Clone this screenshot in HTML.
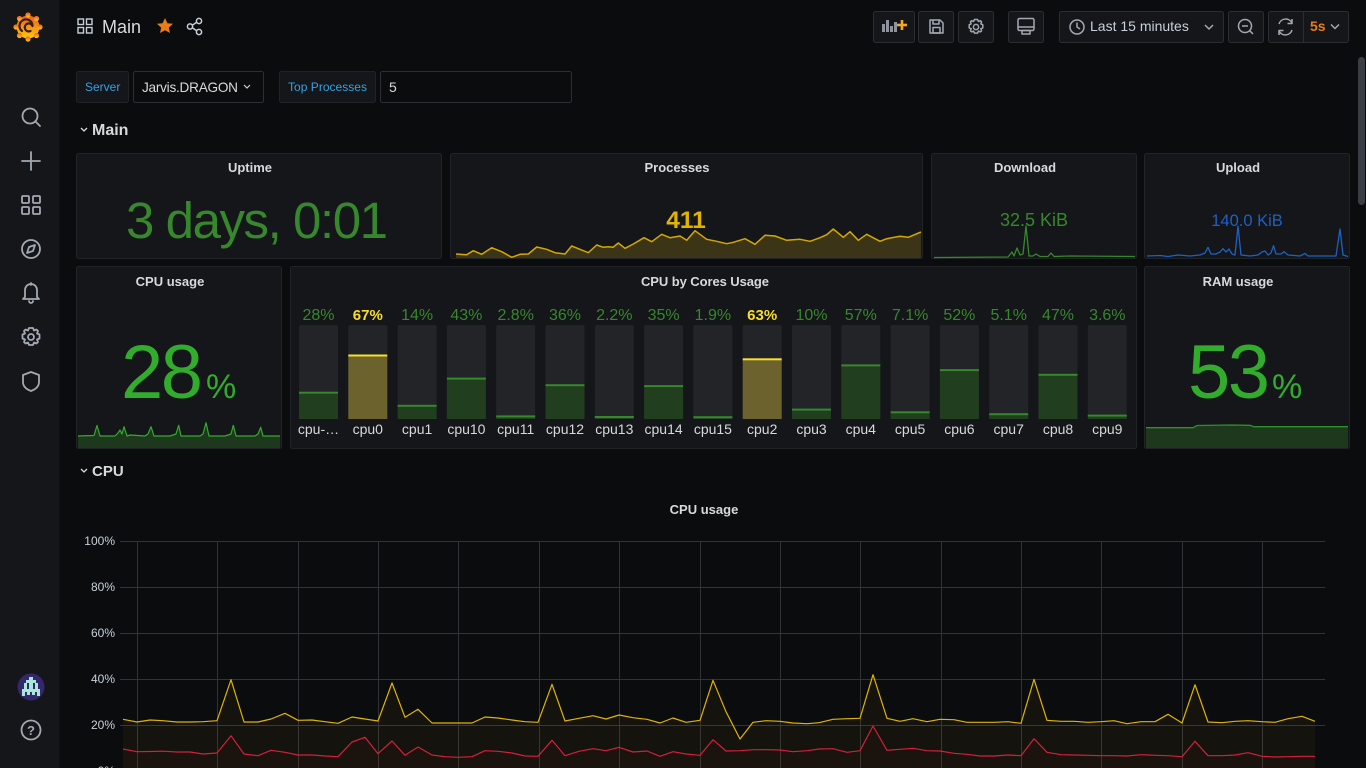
<!DOCTYPE html>
<html><head><meta charset="utf-8"><style>
html,body{margin:0;padding:0;background:#0b0c0e;overflow:hidden}
svg{display:block}
text{font-family:"Liberation Sans",sans-serif}
</style></head><body>
<svg width="1366" height="768" viewBox="0 0 1366 768" xmlns="http://www.w3.org/2000/svg">
<rect width="1366" height="768" fill="#0b0c0e"/>
<!-- Sidebar -->
<rect x="0" y="0" width="60" height="768" fill="#141619"/>
<rect x="59" y="0" width="1" height="768" fill="#0e0f11"/>
<!-- logo -->
<defs><linearGradient id="lg" x1="0" y1="1" x2="0" y2="0"><stop offset="0" stop-color="#fbca0a"/><stop offset="1" stop-color="#f05a28"/></linearGradient></defs>
<g transform="translate(28,27)">
<circle r="11.5" fill="url(#lg)"/>
<g fill="url(#lg)"><circle cx="0" cy="-12" r="2.6"/><circle cx="8.5" cy="-8.5" r="2.6"/><circle cx="12" cy="0" r="2.6"/><circle cx="8.5" cy="8.5" r="2.6"/><circle cx="0" cy="12" r="2.6"/><circle cx="-8.5" cy="8.5" r="2.6"/><circle cx="-12" cy="0" r="2.6"/><circle cx="-8.5" cy="-8.5" r="2.6"/></g>
<path d="M2.5 4 A4 4 0 1 1 4.5 -1 M4.5 -1 A6.5 6.5 0 1 0 -6 4" fill="none" stroke="#3a1d0c" stroke-width="2.2" stroke-linecap="round"/>
</g>
<g fill="none" stroke="#a3a9b2" stroke-width="1.8" stroke-linecap="round" stroke-linejoin="round">
<circle cx="30" cy="116" r="7.5"/><line x1="35.5" y1="121.5" x2="40" y2="126"/>
<line x1="31" y1="152" x2="31" y2="170"/><line x1="22" y1="161" x2="40" y2="161"/>
<rect x="22" y="196" width="7" height="7" rx="1"/><rect x="33" y="196" width="7" height="7" rx="1"/><rect x="22" y="207" width="7" height="7" rx="1"/><rect x="33" y="207" width="7" height="7" rx="1"/>
<circle cx="31" cy="249" r="9"/><path d="M35 245 L33 251 L27 253 L29 247 Z"/>
<path d="M25 297 L25 290 A6 6 0 0 1 37 290 L37 297 L39 299 L23 299 Z"/><path d="M29 301 A2 2 0 0 0 33 301"/><line x1="31" y1="283" x2="31" y2="285"/>
<circle cx="31" cy="337" r="3"/>
<path d="M31 328 l2 0 l1 2.5 l2.5 -1 l1.5 1.5 l-1 2.5 l2.5 1 l0 2 l0 2 l-2.5 1 l1 2.5 l-1.5 1.5 l-2.5 -1 l-1 2.5 l-2 0 l-2 0 l-1 -2.5 l-2.5 1 l-1.5 -1.5 l1 -2.5 l-2.5 -1 l0 -2 l0 -2 l2.5 -1 l-1 -2.5 l1.5 -1.5 l2.5 1 l1 -2.5 Z"/>
<path d="M31 372 L39 375 L39 382 Q39 388 31 391 Q23 388 23 382 L23 375 Z"/>
<circle cx="31" cy="730" r="9.5"/>
</g>
<text x="31" y="735" font-size="13" font-weight="bold" fill="#a3a9b2" text-anchor="middle">?</text>
<circle cx="31" cy="687" r="13.5" fill="#33286e"/>
<g fill="#a8e6d6"><rect x="29" y="677" width="4" height="3"/><rect x="26" y="680" width="10" height="3"/><rect x="24" y="683" width="3" height="6"/><rect x="35" y="683" width="3" height="6"/><rect x="29" y="683" width="4" height="6"/><rect x="22" y="689" width="18" height="3"/><rect x="22" y="692" width="3" height="4"/><rect x="37" y="692" width="3" height="4"/><rect x="27" y="692" width="3" height="3"/><rect x="32" y="692" width="3" height="3"/></g>

<!-- top bar -->
<g fill="none" stroke="#c7d0d9" stroke-width="1.4">
<rect x="78" y="19" width="5.5" height="5.5"/><rect x="86.5" y="19" width="5.5" height="5.5"/><rect x="78" y="27.5" width="5.5" height="5.5"/><rect x="86.5" y="27.5" width="5.5" height="5.5"/>
</g>
<text x="102" y="33" font-size="18" fill="#d8d9da">Main</text>
<path d="M165 18 L167.4 23.2 L173 23.8 L168.8 27.6 L170 33 L165 30.2 L160 33 L161.2 27.6 L157 23.8 L162.6 23.2 Z" fill="#eb7b18"/>
<g fill="none" stroke="#c7d0d9" stroke-width="1.5"><circle cx="199" cy="21" r="2.6"/><circle cx="190" cy="26.5" r="2.6"/><circle cx="199" cy="32" r="2.6"/><line x1="192.3" y1="25.2" x2="196.7" y2="22.3"/><line x1="192.3" y1="27.8" x2="196.7" y2="30.7"/></g>

<g fill="#141619" stroke="#2a2d32">
<rect x="873.5" y="11.5" width="41" height="31" rx="2"/>
<rect x="918.5" y="11.5" width="35" height="31" rx="2"/>
<rect x="958.5" y="11.5" width="35" height="31" rx="2"/>
<rect x="1008.5" y="11.5" width="35" height="31" rx="2"/>
<rect x="1059.5" y="11.5" width="164" height="31" rx="2"/>
<rect x="1228.5" y="11.5" width="35" height="31" rx="2"/>
<rect x="1268.5" y="11.5" width="80" height="31" rx="2"/>
</g>
<line x1="1303.5" y1="12" x2="1303.5" y2="42" stroke="#2a2d32"/>
<g fill="#8e949c"><rect x="882" y="24" width="3" height="8"/><rect x="886" y="20" width="3" height="12"/><rect x="890" y="26" width="3" height="6"/><rect x="894" y="22" width="3" height="10"/></g>
<g stroke="#f5a623" stroke-width="2.6"><line x1="902" y1="20" x2="902" y2="30"/><line x1="897" y1="25" x2="907" y2="25"/></g>
<g fill="none" stroke="#a3a9b2" stroke-width="1.5" stroke-linejoin="round">
<path d="M930 20 L940 20 L943 23 L943 33 L930 33 Z"/><path d="M933 20 L933 24 L939 24 L939 20"/><rect x="933" y="27.5" width="7" height="5.5"/>
<circle cx="976" cy="27" r="2.6"/>
<path d="M976 19.5 l1.6 0 l0.8 2 l2 -0.8 l1.2 1.2 l-0.8 2 l2 0.8 l0 3.2 l-2 0.8 l0.8 2 l-1.2 1.2 l-2 -0.8 l-0.8 2 l-3.2 0 l-0.8 -2 l-2 0.8 l-1.2 -1.2 l0.8 -2 l-2 -0.8 l0 -3.2 l2 -0.8 l-0.8 -2 l1.2 -1.2 l2 0.8 l0.8 -2 Z"/>
<rect x="1018" y="18.5" width="16" height="12" rx="1.5"/><line x1="1018" y1="27" x2="1034" y2="27"/><rect x="1022" y="30.5" width="8" height="3.5"/>
<circle cx="1077" cy="27" r="7"/><path d="M1077 22.5 L1077 27 L1080 29"/>
<path d="M1205 25 L1209 29 L1213 25"/>
<circle cx="1245" cy="26" r="6.5"/><line x1="1242" y1="26" x2="1248" y2="26"/><line x1="1249.8" y1="30.8" x2="1253" y2="34"/>
<path d="M1279 24 A7 7 0 0 1 1292 23"/><path d="M1292 19 L1292 23.5 L1287.5 23.5"/><path d="M1292 30 A7 7 0 0 1 1279 31"/><path d="M1279 35 L1279 30.5 L1283.5 30.5"/>
<path d="M1331 24.5 L1335 28.5 L1339 24.5"/>
</g>
<text x="1090" y="31" font-size="14" fill="#c7d0d9">Last 15 minutes</text>
<text x="1310" y="31" font-size="14" font-weight="bold" fill="#eb7b18">5s</text>

<!-- scrollbar -->
<rect x="1358" y="57" width="7" height="148" rx="3.5" fill="#3a3d44"/>

<!-- variables -->
<rect x="76.5" y="71.5" width="52" height="31" rx="2" fill="#141619" stroke="#202226"/>
<text x="85" y="91" font-size="12" fill="#33a2e5">Server</text>
<rect x="133.5" y="71.5" width="130" height="31" rx="2" fill="#0b0c0e" stroke="#2c3035"/>
<text x="142" y="92" font-size="13.6" fill="#d8d9da" textLength="96">Jarvis.DRAGON</text>
<path d="M244 85 L247 88 L250 85" fill="none" stroke="#c7d0d9" stroke-width="1.2"/>
<rect x="279.5" y="71.5" width="96" height="31" rx="2" fill="#141619" stroke="#202226"/>
<text x="288" y="91" font-size="12" fill="#33a2e5" textLength="79">Top Processes</text>
<rect x="380.5" y="71.5" width="191" height="31" rx="2" fill="#0b0c0e" stroke="#2c3035"/>
<text x="389" y="92" font-size="14" fill="#d8d9da">5</text>

<!-- row headers -->
<path d="M81 128 L84 131 L87 128" fill="none" stroke="#d8d9da" stroke-width="1.3"/>
<text x="92" y="135" font-size="16" font-weight="bold" fill="#d8d9da">Main</text>
<path d="M81 469 L84 472 L87 469" fill="none" stroke="#d8d9da" stroke-width="1.3"/>
<text x="92" y="476" font-size="15" font-weight="bold" fill="#d8d9da">CPU</text>

<!-- panels -->
<g fill="#141619" stroke="#212327">
<rect x="76.5" y="153.5" width="365" height="105" rx="2"/>
<rect x="450.5" y="153.5" width="472" height="105" rx="2"/>
<rect x="931.5" y="153.5" width="205" height="105" rx="2"/>
<rect x="1144.5" y="153.5" width="205" height="105" rx="2"/>
<rect x="76.5" y="266.5" width="205" height="182" rx="2"/>
<rect x="290.5" y="266.5" width="846" height="182" rx="2"/>
<rect x="1144.5" y="266.5" width="205" height="182" rx="2"/>
</g>
<g font-size="13" font-weight="bold" fill="#d8d9da" text-anchor="middle">
<text x="250" y="172">Uptime</text>
<text x="677" y="172">Processes</text>
<text x="1025" y="172">Download</text>
<text x="1238" y="172">Upload</text>
<text x="170" y="286">CPU usage</text>
<text x="705" y="286" textLength="128">CPU by Cores Usage</text>
<text x="1238" y="286">RAM usage</text>
<text x="704" y="514">CPU usage</text>
</g>

<!-- Uptime -->
<text x="126" y="238" font-size="51" fill="#37872d" textLength="262">3 days, 0:01</text>

<!-- Processes sparkline -->
<path d="M456 254 L466.7 254.7 L473.3 250.7 L481.7 254.3 L491.7 247.7 L501.7 251.7 L511.7 257.3 L520 254.3 L528.3 254 L536.7 247 L546.7 249.3 L555 252.7 L565 254 L571.7 246 L583.3 250.7 L588.3 252.7 L596.7 245 L603.3 247.3 L608.3 246.7 L613 247.3 L618.3 243 L625 248.3 L633.3 244 L644 237.7 L651.7 241.7 L661.7 234.3 L670 237.7 L680 236 L686.7 240.3 L695 230.7 L706.7 239.3 L716.7 241.3 L726.7 243.7 L733.3 242.3 L745 238.7 L755 244.3 L765 235.3 L775 236 L786.7 240.3 L800 239.3 L810 241.3 L820 237.7 L826.7 234.7 L833.3 229 L843.3 237.3 L850 231.7 L858.3 240.3 L866.7 234.3 L880 241.3 L886.7 238.7 L900 236.3 L908.3 237.3 L921 232 L921 258 L456 258 Z" fill="#3c3417" stroke="none"/>
<path d="M456 254 L466.7 254.7 L473.3 250.7 L481.7 254.3 L491.7 247.7 L501.7 251.7 L511.7 257.3 L520 254.3 L528.3 254 L536.7 247 L546.7 249.3 L555 252.7 L565 254 L571.7 246 L583.3 250.7 L588.3 252.7 L596.7 245 L603.3 247.3 L608.3 246.7 L613 247.3 L618.3 243 L625 248.3 L633.3 244 L644 237.7 L651.7 241.7 L661.7 234.3 L670 237.7 L680 236 L686.7 240.3 L695 230.7 L706.7 239.3 L716.7 241.3 L726.7 243.7 L733.3 242.3 L745 238.7 L755 244.3 L765 235.3 L775 236 L786.7 240.3 L800 239.3 L810 241.3 L820 237.7 L826.7 234.7 L833.3 229 L843.3 237.3 L850 231.7 L858.3 240.3 L866.7 234.3 L880 241.3 L886.7 238.7 L900 236.3 L908.3 237.3 L921 232" fill="none" stroke="#d4a800" stroke-width="1.5" stroke-linejoin="round"/>
<text x="686" y="228" font-size="24.5" font-weight="bold" fill="#e0b400" text-anchor="middle">411</text>

<!-- Download -->
<path d="M934 257.5 L1008 257 L1012 252 L1014 256 L1017 248 L1020 255 L1023 254 L1026 226 L1029 256 L1033 256 L1036 254 L1040 256.5 L1048 256.5 L1051 253 L1054 256.5 L1070 256 L1135 256.5" fill="none" stroke="#37872d" stroke-width="1.3" stroke-linejoin="round"/>
<text x="1034" y="226" font-size="18" fill="#37872d" text-anchor="middle">32.5 KiB</text>
<!-- Upload -->
<path d="M1147 256 L1160 255.5 L1168 256.5 L1178 255 L1190 256 L1200 255 L1205 253 L1208 247.3 L1211 254 L1216 254 L1220 252 L1223 248.7 L1226 252 L1229 249 L1232 254 L1235 255 L1238 226 L1241 255 L1250 256 L1258 255 L1262 252 L1265 251 L1268 255 L1271 253 L1273.5 245.7 L1276 254 L1281 254 L1284 251.7 L1288 255 L1300 256 L1305 253.5 L1308 256 L1336 256 L1340 229 L1343 255 L1348 256.5" fill="none" stroke="#1f60c4" stroke-width="1.3" stroke-linejoin="round"/>
<text x="1247" y="226" font-size="16.5" fill="#1f60c4" text-anchor="middle">140.0 KiB</text>

<!-- CPU usage stat -->
<path d="M78 436 L94 435.5 L97 425.5 L100 436 L115 436 L118 433 L120 430 L122 434 L124 426.7 L127 436 L130 435 L145 436 L148 434 L151 426.7 L154 436 L170 436 L176 434 L178.7 425.3 L181 436 L200 436 L203 434 L206 422.7 L209 436 L225 436 L231 434 L233.3 425.3 L236 436 L255 436 L258 434 L260.7 427.3 L263 436 L280 436 L280 448 L78 448 Z" fill="#1d381c"/>
<path d="M78 436 L94 435.5 L97 425.5 L100 436 L115 436 L118 433 L120 430 L122 434 L124 426.7 L127 436 L130 435 L145 436 L148 434 L151 426.7 L154 436 L170 436 L176 434 L178.7 425.3 L181 436 L200 436 L203 434 L206 422.7 L209 436 L225 436 L231 434 L233.3 425.3 L236 436 L255 436 L258 434 L260.7 427.3 L263 436 L280 436" fill="none" stroke="#32ac2d" stroke-width="1.2" stroke-linejoin="round"/>
<text x="121" y="398" font-size="76" fill="#32ac2d" textLength="82">28</text>
<text x="206" y="398" font-size="34" fill="#32ac2d">%</text>

<!-- RAM -->
<path d="M1146 427.7 L1193 427.7 L1197 425.5 L1230 425 L1250 425.3 L1254 426.7 L1348 426.7 L1348 448 L1146 448 Z" fill="#1d381c"/>
<path d="M1146 427.7 L1193 427.7 L1197 425.5 L1230 425 L1250 425.3 L1254 426.7 L1348 426.7" fill="none" stroke="#2f8f2a" stroke-width="1.3"/>
<text x="1188" y="398" font-size="76" fill="#32ac2d" textLength="82">53</text>
<text x="1272" y="398" font-size="34" fill="#32ac2d">%</text>

<!-- core bars -->
<g fill="#232428">
<rect x="299" y="325" width="39" height="94" rx="2"/><rect x="348.3" y="325" width="39" height="94" rx="2"/><rect x="397.6" y="325" width="39" height="94" rx="2"/><rect x="446.9" y="325" width="39" height="94" rx="2"/><rect x="496.2" y="325" width="39" height="94" rx="2"/><rect x="545.5" y="325" width="39" height="94" rx="2"/><rect x="594.8" y="325" width="39" height="94" rx="2"/><rect x="644.1" y="325" width="39" height="94" rx="2"/><rect x="693.4" y="325" width="39" height="94" rx="2"/><rect x="742.7" y="325" width="39" height="94" rx="2"/><rect x="792" y="325" width="39" height="94" rx="2"/><rect x="841.3" y="325" width="39" height="94" rx="2"/><rect x="890.6" y="325" width="39" height="94" rx="2"/><rect x="939.9" y="325" width="39" height="94" rx="2"/><rect x="989.2" y="325" width="39" height="94" rx="2"/><rect x="1038.5" y="325" width="39" height="94" rx="2"/><rect x="1087.8" y="325" width="39" height="94" rx="2"/>
</g>
<g fill="#213e1f">
<rect x="299" y="392.7" width="39" height="26.3"/><rect x="397.6" y="405.8" width="39" height="13.2"/><rect x="446.9" y="378.6" width="39" height="40.4"/><rect x="496.2" y="416.4" width="39" height="2.6"/><rect x="545.5" y="385.2" width="39" height="33.8"/><rect x="594.8" y="416.9" width="39" height="2.1"/><rect x="644.1" y="386.1" width="39" height="32.9"/><rect x="693.4" y="417" width="39" height="2"/><rect x="792" y="409.6" width="39" height="9.4"/><rect x="841.3" y="365.4" width="39" height="53.6"/><rect x="890.6" y="412.3" width="39" height="6.7"/><rect x="939.9" y="370.1" width="39" height="48.9"/><rect x="989.2" y="414.2" width="39" height="4.8"/><rect x="1038.5" y="374.8" width="39" height="44.2"/><rect x="1087.8" y="415.6" width="39" height="3.4"/>
</g>
<g fill="#37872d">
<rect x="299" y="391.7" width="39" height="2"/><rect x="397.6" y="404.8" width="39" height="2"/><rect x="446.9" y="377.6" width="39" height="2"/><rect x="496.2" y="415.4" width="39" height="2"/><rect x="545.5" y="384.2" width="39" height="2"/><rect x="594.8" y="416" width="39" height="2"/><rect x="644.1" y="385.1" width="39" height="2"/><rect x="693.4" y="416.2" width="39" height="2"/><rect x="792" y="408.6" width="39" height="2"/><rect x="841.3" y="364.4" width="39" height="2"/><rect x="890.6" y="411.3" width="39" height="2"/><rect x="939.9" y="369.1" width="39" height="2"/><rect x="989.2" y="413.2" width="39" height="2"/><rect x="1038.5" y="373.8" width="39" height="2"/><rect x="1087.8" y="414.6" width="39" height="2"/>
</g>
<g fill="#6b622d"><rect x="348.3" y="356" width="39" height="63"/><rect x="742.7" y="359.8" width="39" height="59.2"/></g>
<g fill="#fade2a"><rect x="348.3" y="354.5" width="39" height="2"/><rect x="742.7" y="358.3" width="39" height="2"/></g>
<g font-size="16" fill="#37872d" text-anchor="middle">
<text x="318.5" y="320">28%</text>
<text x="417.1" y="320">14%</text><text x="466.4" y="320">43%</text><text x="515.7" y="320">2.8%</text><text x="565" y="320">36%</text><text x="614.3" y="320">2.2%</text><text x="663.6" y="320">35%</text><text x="712.9" y="320">1.9%</text>
<text x="811.5" y="320">10%</text><text x="860.8" y="320">57%</text><text x="910.1" y="320">7.1%</text><text x="959.4" y="320">52%</text><text x="1008.7" y="320">5.1%</text><text x="1058" y="320">47%</text><text x="1107.3" y="320">3.6%</text>
</g>
<g font-size="15" font-weight="bold" fill="#fade2a" text-anchor="middle"><text x="367.8" y="320">67%</text><text x="762.2" y="320">63%</text></g>
<g font-size="14" fill="#d8d9da" text-anchor="middle">
<text x="318.5" y="434">cpu-…</text><text x="367.8" y="434">cpu0</text><text x="417.1" y="434">cpu1</text><text x="466.4" y="434">cpu10</text><text x="515.7" y="434">cpu11</text><text x="565" y="434">cpu12</text><text x="614.3" y="434">cpu13</text><text x="663.6" y="434">cpu14</text><text x="712.9" y="434">cpu15</text><text x="762.2" y="434">cpu2</text><text x="811.5" y="434">cpu3</text><text x="860.8" y="434">cpu4</text><text x="910.1" y="434">cpu5</text><text x="959.4" y="434">cpu6</text><text x="1008.7" y="434">cpu7</text><text x="1058" y="434">cpu8</text><text x="1107.3" y="434">cpu9</text>
</g>

<!-- CPU graph -->
<g stroke="#313236" stroke-width="1">
<line x1="137.5" y1="541" x2="137.5" y2="768"/><line x1="217.5" y1="541" x2="217.5" y2="768"/><line x1="298.5" y1="541" x2="298.5" y2="768"/><line x1="378.5" y1="541" x2="378.5" y2="768"/><line x1="458.5" y1="541" x2="458.5" y2="768"/><line x1="539.5" y1="541" x2="539.5" y2="768"/><line x1="619.5" y1="541" x2="619.5" y2="768"/><line x1="700.5" y1="541" x2="700.5" y2="768"/><line x1="780.5" y1="541" x2="780.5" y2="768"/><line x1="860.5" y1="541" x2="860.5" y2="768"/><line x1="941.5" y1="541" x2="941.5" y2="768"/><line x1="1021.5" y1="541" x2="1021.5" y2="768"/><line x1="1101.5" y1="541" x2="1101.5" y2="768"/><line x1="1182.5" y1="541" x2="1182.5" y2="768"/><line x1="1262.5" y1="541" x2="1262.5" y2="768"/>
</g>
<g stroke="#333438" stroke-width="1">
<line x1="120" y1="541.5" x2="1325" y2="541.5"/><line x1="120" y1="587.5" x2="1325" y2="587.5"/><line x1="120" y1="633.5" x2="1325" y2="633.5"/><line x1="120" y1="679.5" x2="1325" y2="679.5"/><line x1="120" y1="725.5" x2="1325" y2="725.5"/>
</g>
<g font-size="12" fill="#c7d0d9" text-anchor="end">
<text x="115" y="545">100%</text><text x="115" y="591">80%</text><text x="115" y="637">60%</text><text x="115" y="683">40%</text><text x="115" y="729">20%</text><text x="115" y="775">0%</text>
</g>
<polygon points="123,771 123,719.3 137,722 150,720 163,720.7 177,722 190,722 203,721.7 217,720.7 231,679.7 244,722 258,722 271,719 285,713.3 298,720.3 312,720 325,721.7 338,723.3 352,717 365,719 378,721 392,683 405,717.3 418,709.3 432,723 445,723 458,723 472,723 485,717 498,718 512,720 525,721.7 538,722.3 552,684.3 565,721 579,718.3 593,715.7 606,719 619,715 633,717.7 647,719.3 660,723 673,718 686,722.3 700,720.3 713,680.3 726,711.7 740,739 753,722.3 766,720.7 780,721.3 793,723 807,723.7 819,722.7 833,719.3 847,718.7 860,718.3 873,674.7 887,718.3 900,721.3 913,718.7 927,721.7 940,719.3 954,719.7 967,722.3 980,722.3 994,722.3 1008,721.7 1021,723.3 1034,679.3 1047,720.3 1061,721.3 1074,721.3 1088,722.3 1101,721.7 1114,720.7 1127,723.7 1141,721.7 1155,721.7 1168,714.3 1182,723 1195,684.7 1208,722 1222,722.7 1235,721.3 1248,720.7 1262,721.7 1275,722.3 1288,718.7 1302,716.3 1315,721.3 1315,771" fill="#e0b400" fill-opacity="0.045"/>
<polygon points="123,771 123,749 137,751.7 150,751.5 163,751.2 177,752 190,752 203,754 217,753 231,735.7 244,754 258,755.7 271,750.3 285,752.3 298,755 312,755 325,756 338,756.7 352,742 365,737.3 378,753.7 392,741 405,755.3 418,747 432,755 445,756.7 458,757.3 472,756.7 485,750.7 498,751.3 512,753 525,756 538,756.3 552,740.3 565,755.7 579,751.3 593,748.7 606,750.7 619,747.3 633,752 647,751 660,756.3 673,751.7 686,754 700,755.3 713,739.7 726,751 740,750.7 753,749.7 766,749.7 780,750 793,751.7 807,750.7 819,749 833,748.7 847,752.3 860,750.7 873,726 887,750.3 900,749.3 913,748.3 927,750.7 940,751 954,753.3 967,754.3 980,756 994,756 1008,755 1021,755.7 1034,738.7 1047,752.3 1061,754.7 1074,755 1088,755.3 1101,755.7 1114,755.7 1127,756 1141,754.7 1155,755.3 1168,755.7 1182,756.7 1195,741.3 1208,755.7 1222,755.7 1235,755 1248,752.7 1262,756.3 1275,757 1288,756.7 1302,756.3 1315,756.3 1315,771" fill="#e02f44" fill-opacity="0.03"/>
<polyline points="123,719.3 137,722 150,720 163,720.7 177,722 190,722 203,721.7 217,720.7 231,679.7 244,722 258,722 271,719 285,713.3 298,720.3 312,720 325,721.7 338,723.3 352,717 365,719 378,721 392,683 405,717.3 418,709.3 432,723 445,723 458,723 472,723 485,717 498,718 512,720 525,721.7 538,722.3 552,684.3 565,721 579,718.3 593,715.7 606,719 619,715 633,717.7 647,719.3 660,723 673,718 686,722.3 700,720.3 713,680.3 726,711.7 740,739 753,722.3 766,720.7 780,721.3 793,723 807,723.7 819,722.7 833,719.3 847,718.7 860,718.3 873,674.7 887,718.3 900,721.3 913,718.7 927,721.7 940,719.3 954,719.7 967,722.3 980,722.3 994,722.3 1008,721.7 1021,723.3 1034,679.3 1047,720.3 1061,721.3 1074,721.3 1088,722.3 1101,721.7 1114,720.7 1127,723.7 1141,721.7 1155,721.7 1168,714.3 1182,723 1195,684.7 1208,722 1222,722.7 1235,721.3 1248,720.7 1262,721.7 1275,722.3 1288,718.7 1302,716.3 1315,721.3" fill="none" stroke="#e0b400" stroke-width="1.2" stroke-linejoin="round"/>
<polyline points="123,749 137,751.7 150,751.5 163,751.2 177,752 190,752 203,754 217,753 231,735.7 244,754 258,755.7 271,750.3 285,752.3 298,755 312,755 325,756 338,756.7 352,742 365,737.3 378,753.7 392,741 405,755.3 418,747 432,755 445,756.7 458,757.3 472,756.7 485,750.7 498,751.3 512,753 525,756 538,756.3 552,740.3 565,755.7 579,751.3 593,748.7 606,750.7 619,747.3 633,752 647,751 660,756.3 673,751.7 686,754 700,755.3 713,739.7 726,751 740,750.7 753,749.7 766,749.7 780,750 793,751.7 807,750.7 819,749 833,748.7 847,752.3 860,750.7 873,726 887,750.3 900,749.3 913,748.3 927,750.7 940,751 954,753.3 967,754.3 980,756 994,756 1008,755 1021,755.7 1034,738.7 1047,752.3 1061,754.7 1074,755 1088,755.3 1101,755.7 1114,755.7 1127,756 1141,754.7 1155,755.3 1168,755.7 1182,756.7 1195,741.3 1208,755.7 1222,755.7 1235,755 1248,752.7 1262,756.3 1275,757 1288,756.7 1302,756.3 1315,756.3" fill="none" stroke="#d4203a" stroke-width="1.2" stroke-linejoin="round"/>
</svg>
</body></html>
